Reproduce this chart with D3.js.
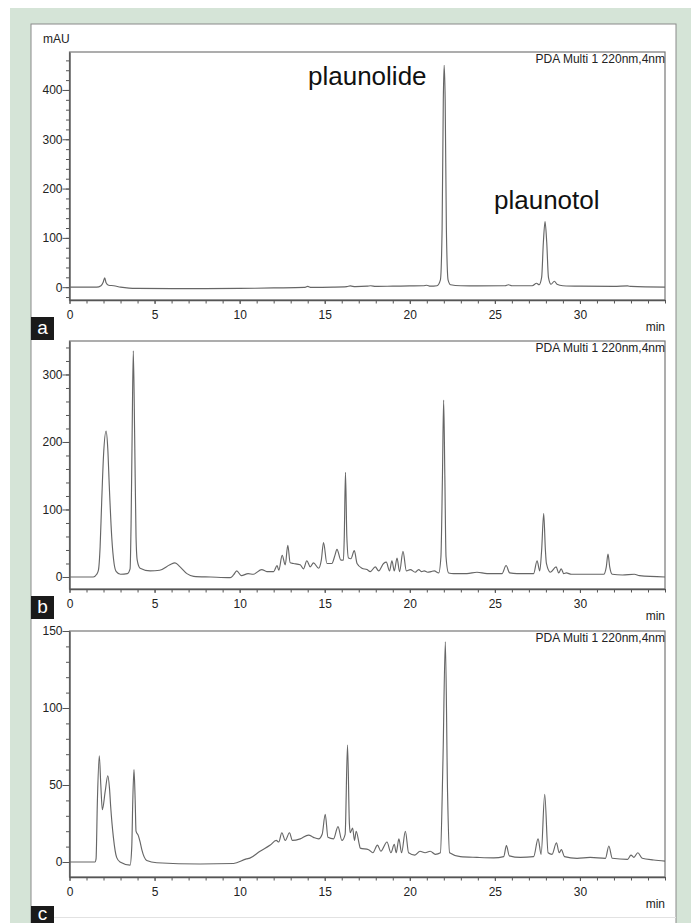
<!DOCTYPE html>
<html>
<head>
<meta charset="utf-8">
<script src="https://cdn.jsdelivr.net/npm/d3@7"></script>
<style>
  body { margin: 0; background: #fff; }
  svg { display: block; font-family: Arial, "Liberation Sans", sans-serif; }
  .axis path, .axis line { stroke: #555; }
  .axis text { fill: #222; font-size: 12px; }
</style>
</head>
<body>
<svg id="chart"></svg>
<script>
// chromatogram traces: [min, mAU]
var traceA = [
  [0,0],[1.6,0],[1.85,3],[1.98,10],[2.07,19],[2.15,9],[2.3,4],[2.6,3],[3.0,0],[3.5,-2],[4,-2.5],
  [6,-3],[8,-3],[10,-2.5],[12,-1.5],[13.8,-0.5],[14.0,1.5],[14.2,-0.5],[15.5,0],[16.3,1],[16.5,2.5],
  [16.8,1],[17.5,2],[17.7,3],[18,1.5],[19,2],[20,2.5],[20.8,3],[21.0,4],[21.2,2],[21.6,3],[21.8,15],
  [21.9,120],[21.97,380],[22.02,450],[22.08,380],[22.15,120],[22.25,15],[22.4,5],[23,3],[24,2.5],
  [25.6,3],[25.8,5],[26,3],[27.2,3],[27.45,8],[27.6,5],[27.75,20],[27.85,90],[27.95,133],[28.05,90],
  [28.15,20],[28.3,6],[28.5,12],[28.65,6],[29,3],[30,2],[32,1.5],[32.8,2.5],[33,1.5],[35,0]
];
var traceB = [
  [0,0],[1.4,0],[1.6,4],[1.7,10],[1.8,45],[1.89,110],[2.0,180],[2.15,216],[2.25,190],[2.34,134],
  [2.48,60],[2.62,20],[2.75,8],[3.0,4],[3.4,5],[3.56,12],[3.62,80],[3.68,208],[3.75,335],[3.83,208],
  [3.91,60],[3.98,25],[4.15,13],[4.74,9],[5.3,10],[5.9,18],[6.2,21],[6.5,15],[6.9,5],[7.3,1],[8.3,0],
  [9.45,-1],[9.64,3],[9.83,9],[10.1,2],[10.5,5],[10.8,4],[11.3,11],[11.6,8],[12.0,8],[12.2,17],
  [12.3,10],[12.5,32],[12.68,18],[12.83,47],[12.97,21],[13.17,20],[13.56,18],[13.75,12],[13.95,24],
  [14.15,15],[14.34,21],[14.64,13],[14.8,25],[14.93,51],[15.13,20],[15.42,20],[15.6,32],[15.72,41],
  [15.95,25],[16.1,25],[16.15,60],[16.22,155],[16.3,60],[16.4,28],[16.54,27],[16.74,39],[16.9,20],
  [17.19,13],[17.48,11],[17.68,8],[17.97,15],[18.17,9],[18.46,20],[18.62,22],[18.81,9],[18.95,24],
  [19.09,9],[19.25,28],[19.4,8],[19.6,38],[19.8,9],[20.03,11],[20.32,7],[20.52,11],[20.7,8],
  [20.85,9],[21.05,7],[21.25,8],[21.44,9],[21.7,6],[21.83,30],[21.92,150],[21.99,262],[22.06,150],
  [22.13,30],[22.28,6],[22.58,5],[23.36,5],[23.95,7],[24.54,5],[25.42,5],[25.66,17],[25.87,6],
  [26.3,5],[27.28,5],[27.48,24],[27.64,9],[27.75,40],[27.87,94],[27.97,40],[28.03,20],[28.26,7],
  [28.6,15],[28.75,6],[28.9,12],[29.05,5],[29.2,6],[29.5,4],[30.5,4],[31.4,4],[31.55,15],[31.65,34],
  [31.75,15],[31.9,4],[32.5,3],[33.2,4],[33.5,2],[35,0]
];
var traceC = [
  [0,0],[1.5,0],[1.56,2],[1.64,40],[1.75,69],[1.84,50],[1.93,34],[2.1,46],[2.25,56],[2.35,48],
  [2.42,36],[2.58,16],[2.77,3],[2.97,0],[3.56,-2],[3.66,10],[3.72,40],[3.79,60],[3.86,40],[3.91,20],
  [4.05,17],[4.15,13],[4.25,8],[4.54,1],[5.13,-0.5],[7.68,-1.3],[9.64,-1],[10.4,2],[10.6,2.5],
  [11.2,7],[11.8,11],[12.15,14],[12.3,13],[12.48,19],[12.68,14],[12.93,19],[13.1,14],[13.56,15],
  [14.05,17.5],[14.34,16],[14.64,15],[14.85,18],[15.03,31],[15.19,16],[15.52,15],[15.78,23],
  [16.01,14],[16.2,18],[16.34,76],[16.45,25],[16.5,19],[16.64,22],[16.75,14],[16.85,20],[17.03,11.5],
  [17.09,9],[17.58,8],[17.83,6],[18.1,11],[18.3,7],[18.66,13],[18.89,6],[19.09,11.5],[19.2,6],
  [19.36,15],[19.52,6],[19.74,20],[19.93,6],[20.3,4.5],[20.6,7],[20.9,6],[21.2,7],[21.5,5],[21.8,6],
  [21.95,66],[22.09,143],[22.22,45],[22.34,6],[22.97,3.5],[23.95,3],[24.93,2.7],[25.52,3.5],
  [25.68,10.6],[25.85,4],[26.5,3],[27.28,3.5],[27.54,15],[27.72,5],[27.93,44],[28.13,6],[28.36,5],
  [28.62,12.5],[28.78,6],[28.91,8],[29.09,3.5],[29.83,2.4],[30.6,3],[31.5,2.4],[31.7,10.4],[31.9,2.4],
  [32.8,1.7],[33.0,4.5],[33.17,3],[33.4,6],[33.66,2.4],[34.34,1.3],[35,0.6]
];

// tick values
var xMajor = [0, 5, 10, 15, 20, 25, 30];
var xMinor = d3.range(0, 36, 1);
var yMajorA = [0, 100, 200, 300, 400];
var yMajorB = [0, 100, 200, 300];
var yMajorC = [0, 50, 100, 150];

var svg = d3.select('#chart').attr('width', 691).attr('height', 923);

// green frame and white card
svg.append('rect').attr('x', 10).attr('y', 8).attr('width', 681).attr('height', 915).attr('fill', '#d5e4d7');
svg.append('rect').attr('x', 31).attr('y', 24).attr('width', 645).attr('height', 910)
  .attr('fill', '#fff').attr('stroke', '#8a8a8a').attr('stroke-width', 1);
svg.append('line').attr('x1', 54).attr('x2', 676).attr('y1', 917.5).attr('y2', 917.5).attr('stroke', '#e2e2e2');

var panels = [
  { data: traceA, top: 52, bottom: 300, yDomain: [-26, 477], major: yMajorA, minorStep: 20, letter: 'a', letterY: 317, letterH: 23 },
  { data: traceB, top: 341, bottom: 589, yDomain: [-17.8, 349.6], major: yMajorB, minorStep: 20, letter: 'b', letterY: 596, letterH: 23 },
  { data: traceC, top: 631, bottom: 877, yDomain: [-9.74, 150], major: yMajorC, minorStep: 10, letter: 'c', letterY: 906, letterH: 17 }
];

var left = 69.5, right = 665;
var xScale = d3.scaleLinear().domain([0, 35]).range([left, right]);

panels.forEach(function(p) {
  var yScale = d3.scaleLinear().domain(p.yDomain).range([p.bottom, p.top]);
  var g = svg.append('g');

  // frame
  g.append('rect')
    .attr('x', left).attr('y', p.top)
    .attr('width', right - left).attr('height', p.bottom - p.top)
    .attr('fill', 'none').attr('stroke', '#777').attr('stroke-width', 1.2);

  var yMinor = d3.range(Math.ceil(p.yDomain[0] / p.minorStep) * p.minorStep, p.yDomain[1], p.minorStep);

  // y axis: minor then labelled majors
  g.append('g').attr('class', 'axis')
    .attr('transform', 'translate(' + left + ',0)')
    .call(d3.axisLeft(yScale).tickValues(yMinor).tickSize(3.5).tickFormat(''))
    .call(function(a) { a.select('.domain').remove(); });
  g.append('g').attr('class', 'axis')
    .attr('transform', 'translate(' + left + ',0)')
    .call(d3.axisLeft(yScale).tickValues(p.major).tickSize(7).tickPadding(0).tickSizeOuter(0))
    .call(function(a) { a.select('.domain').attr('stroke-width', 1.4); });

  // x axis
  g.append('g').attr('class', 'axis')
    .attr('transform', 'translate(0,' + p.bottom + ')')
    .call(d3.axisBottom(xScale).tickValues(xMinor).tickSize(3.5).tickFormat(''))
    .call(function(a) { a.select('.domain').remove(); });
  g.append('g').attr('class', 'axis')
    .attr('transform', 'translate(0,' + p.bottom + ')')
    .call(d3.axisBottom(xScale).tickValues(xMajor).tickSize(4).tickPadding(6).tickSizeOuter(0))
    .call(function(a) { a.select('.domain').attr('stroke-width', 1.4); });

  // trace
  var line = d3.line()
    .x(function(d) { return xScale(d[0]); })
    .y(function(d) { return yScale(d[1]); })
    .curve(d3.curveMonotoneX);
  g.append('path').datum(p.data)
    .attr('d', line)
    .attr('fill', 'none').attr('stroke', '#666').attr('stroke-width', 1.15);

  g.append('text')
    .attr('x', right).attr('y', p.top + 11)
    .attr('text-anchor', 'end').attr('font-size', 12).attr('fill', '#222')
    .text('PDA Multi 1 220nm,4nm');

  g.append('text')
    .attr('x', right).attr('y', p.bottom + 31)
    .attr('text-anchor', 'end').attr('font-size', 12).attr('fill', '#222')
    .text('min');

  // panel letter
  g.append('rect').attr('x', 31).attr('y', p.letterY).attr('width', 23).attr('height', p.letterH).attr('fill', '#1a1a1a');
  g.append('text')
    .attr('x', 42.5).attr('y', p.letterY + (p.letterH === 23 ? 17 : 14))
    .attr('text-anchor', 'middle').attr('font-size', 19).attr('fill', '#fff')
    .text(p.letter);
});

svg.append('text').attr('x', 43).attr('y', 43).attr('font-size', 12).attr('fill', '#222').text('mAU');

// peak names
svg.append('text').attr('x', 308).attr('y', 85).attr('font-size', 26).attr('fill', '#111').text('plaunolide');
svg.append('text').attr('x', 494).attr('y', 209).attr('font-size', 26).attr('fill', '#111').text('plaunotol');
</script>
</body>
</html>
